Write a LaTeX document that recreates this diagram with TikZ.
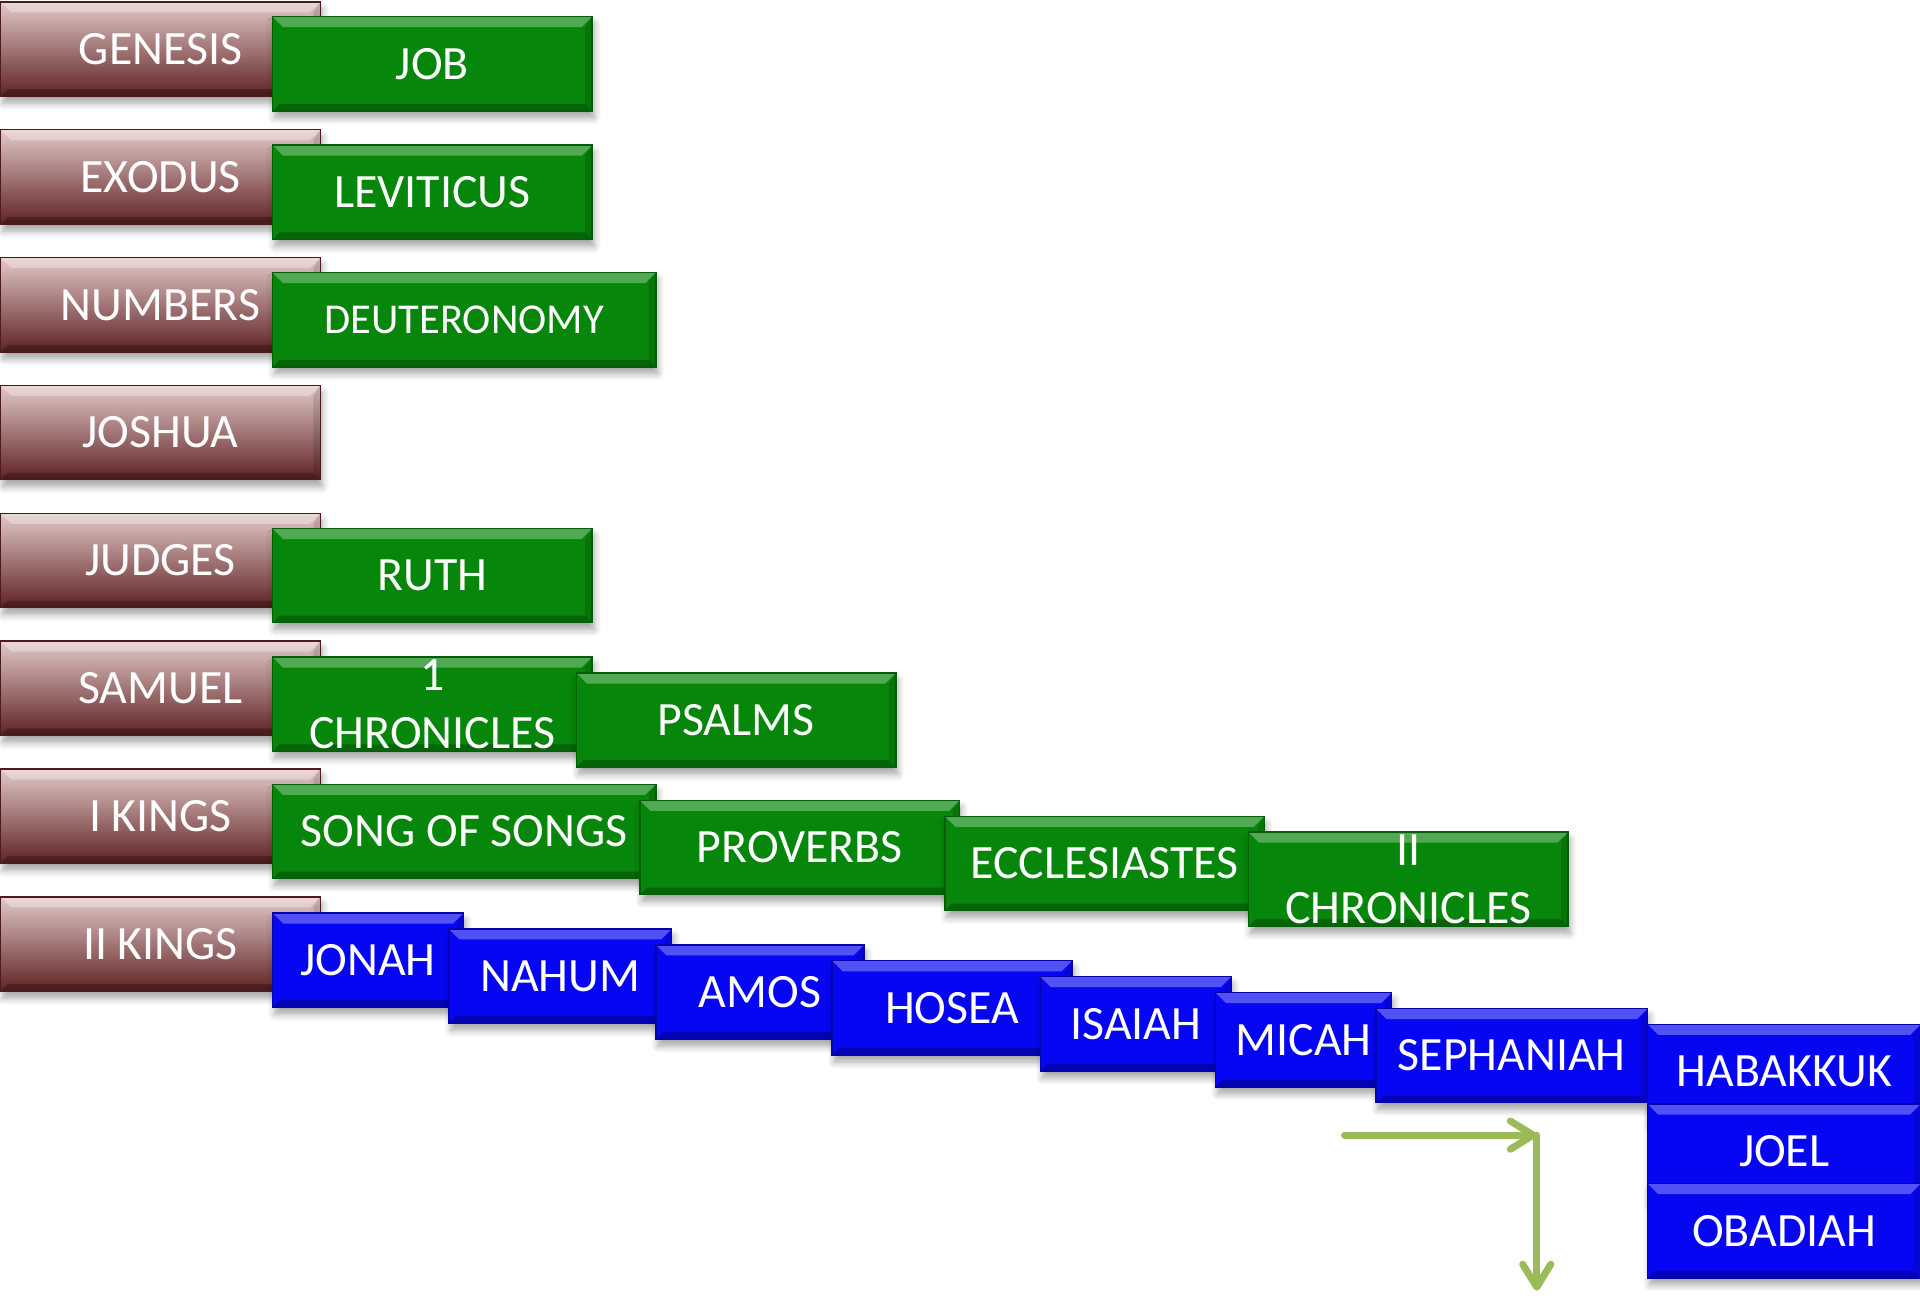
\documentclass[tikz,border=0pt]{standalone}
\usepackage{fontspec}
\setmainfont{Carlito}
\usetikzlibrary{arrows.meta, shadows.blur}

\definecolor{kingtop}{RGB}{226,200,200}
\definecolor{kingbot}{RGB}{96,34,34}
\definecolor{poetgreen}{RGB}{6,134,10}
\definecolor{prophetblue}{RGB}{6,6,242}
\definecolor{arrowgreen}{RGB}{155,187,89}

\newcommand\bookbevel{%
  \fill[white, opacity=0.3] (path picture bounding box.north west)
    -- (path picture bounding box.north east) -- ++(-3pt,-3pt)
    -- ([xshift=3pt,yshift=-3pt]path picture bounding box.north west) -- cycle;
  \fill[black, opacity=0.25] (path picture bounding box.south west)
    -- (path picture bounding box.south east) -- ++(-2pt,2pt)
    -- ([xshift=2pt,yshift=2pt]path picture bounding box.south west) -- cycle;
  \fill[black, opacity=0.12] (path picture bounding box.north east)
    -- (path picture bounding box.south east) -- ++(-2pt,2pt)
    -- ([xshift=-2pt,yshift=-3pt]path picture bounding box.north east) -- cycle;
}

\tikzset{
  w/.style={minimum width=#1*0.01224cm},
  book/.style={anchor=north west, minimum height=0.9425cm, inner sep=0pt,
    text=white, align=center, font=\fontsize{13.6}{16.4}\selectfont,
    blur shadow={shadow xshift=0.6pt, shadow yshift=-2pt, shadow blur steps=6, shadow opacity=35},
    path picture={\bookbevel}},
  kings/.style={book, draw=kingbot!80!black, top color=kingtop, bottom color=kingbot, w=261},
  poetry/.style={book, draw=poetgreen!70!black, fill=poetgreen},
  prophet/.style={book, draw=prophetblue!70!black, fill=prophetblue},
  elbow/.style={draw=arrowgreen, line width=2pt, line cap=round,
    -{Straight Barb[round, length=6.5pt, width=8pt]}}
}

\begin{document}
\begin{tikzpicture}[x=0.01224cm, y=-0.01224cm]
  \useasboundingbox (0,0) rectangle (1568,1058);

  % history
  \foreach \book [count=\i from 0] in {GENESIS, EXODUS, NUMBERS, JOSHUA, JUDGES, SAMUEL, I KINGS, II KINGS} {
    \node[kings] (king\i) at (0, 1+104.4*\i) {\book};
  }

  % poetry and law
  \node[poetry, w=261] (job) at (222,13) {JOB};
  \node[poetry, w=261] (leviticus) at (222,118) {LEVITICUS};
  \node[poetry, w=313, font=\fontsize{12.1}{16.4}\selectfont] (deuteronomy) at (222,222) {DEUTERONOMY};
  \node[poetry, w=261] (ruth) at (222,431) {RUTH};
  \node[poetry, w=261] (chron1) at (222,536) {1\\CHRONICLES};
  \node[poetry, w=261] (psalms) at (470,549) {PSALMS};
  \node[poetry, w=313] (song) at (222,640) {SONG OF SONGS};
  \node[poetry, w=261] (proverbs) at (522,653) {PROVERBS};
  \node[poetry, w=261] (ecclesiastes) at (771,666) {ECCLESIASTES};
  \node[poetry, w=261] (chron2) at (1019,679) {II\\CHRONICLES};

  % prophets
  \node[prophet, w=156] (jonah) at (222,745) {JONAH};
  \node[prophet, w=182] (nahum) at (366,758) {NAHUM};
  \node[prophet, w=170] (amos) at (535,771) {AMOS};
  \node[prophet, w=196] (hosea) at (679,784) {HOSEA};
  \node[prophet, w=156] (isaiah) at (849,797) {ISAIAH};
  \node[prophet, w=144] (micah) at (992,810) {MICAH};
  \node[prophet, w=222] (sephaniah) at (1123,823) {SEPHANIAH};
  \node[prophet, w=223] (habakkuk) at (1345,836) {HABAKKUK};
  \node[prophet, w=223] (joel) at (1345,901) {JOEL};
  \node[prophet, w=223] (obadiah) at (1345,966) {OBADIAH};

  % turn
  \coordinate (from) at (1098,927);
  \coordinate (turn) at (1255,927);
  \coordinate (down) at (1255,1054);
  \draw[elbow] (from) -- (turn);
  \draw[elbow] (turn) -- (down);
\end{tikzpicture}
\end{document}
